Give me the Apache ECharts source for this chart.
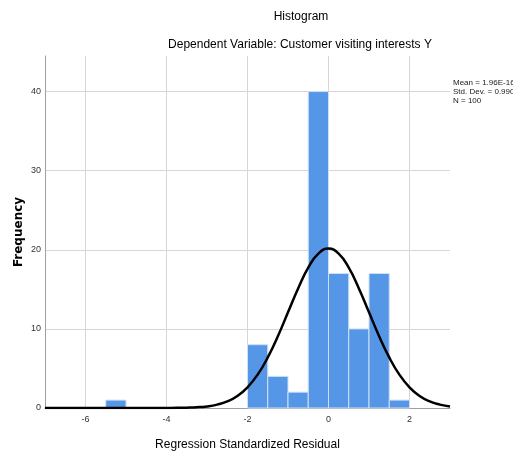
<!DOCTYPE html>
<html>
<head>
<meta charset="utf-8">
<script src="https://cdn.jsdelivr.net/npm/echarts@6/dist/echarts.min.js"></script>
<style>
html,body{margin:0;padding:0;background:#fff;}
#hist{width:513px;height:454px;}
</style>
</head>
<body>
<div id="hist"></div>
<script>
// histogram bins (residual ranges) and counts
var binStart = [-5.5, -2.0, -1.5, -1.0, -0.5, 0.0, 0.5, 1.0, 1.5]
var binEnd   = [-5.0, -1.5, -1.0, -0.5, 0.0, 0.5, 1.0, 1.5, 2.0]
var counts   = [1, 8, 4, 2, 40, 17, 10, 17, 1]

// normal curve
var curveX = [-7, -6, -5, -4.5, -4, -3.75, -3.5, -3.25, -3, -2.75, -2.5, -2.25, -2, -1.75, -1.5, -1.25, -1, -0.75, -0.5, -0.25,
              0, 0.25, 0.5, 0.75, 1, 1.25, 1.5, 1.75, 2, 2.25, 2.5, 2.75, 3]
var curveY = [0, 0, 0, 0, 0.01, 0.02, 0.04, 0.09, 0.2, 0.43, 0.83, 1.52, 2.62, 4.22, 6.39, 9.08, 12.1, 15.12, 17.74, 19.52,
              20.15, 19.52, 17.74, 15.12, 12.1, 9.08, 6.39, 4.22, 2.62, 1.52, 0.83, 0.43, 0.2]

var xTicks = [-6, -4, -2, 0, 2]
var yTicks = [10, 20, 30, 40]
var statLines = ['Mean = 1.96E-16', 'Std. Dev. = 0.990', 'N = 100']

var font = 'Liberation Sans, Arial, sans-serif'

var barData = binStart.map(function (s, i) { return [s, binEnd[i], counts[i]] })
var curveData = curveX.map(function (x, i) { return [x, curveY[i]] })
var gridLines = xTicks.map(function (v) { return {xAxis: v} })
    .concat(yTicks.map(function (v) { return {yAxis: v} }))

var chart = echarts.init(document.getElementById('hist'))
var option = {
    animation: false,
    grid: {left: 45, right: 63, top: 56, bottom: 46, outerBoundsMode: 'none', containLabel: false},
    xAxis: {
        type: 'value',
        min: -7,
        max: 3,
        interval: 1,
        name: 'Regression Standardized Residual',
        nameLocation: 'middle',
        nameGap: 31,
        nameTextStyle: {fontFamily: font, fontSize: 12, color: '#000'},
        axisLine: {onZero: false, lineStyle: {color: '#a0a0a0', width: 1}},
        axisTick: {show: false},
        splitLine: {show: false},
        axisLabel: {
            fontFamily: font, fontSize: 9, color: '#333', margin: 7,
            formatter: function (v) { return (v % 2 === 0) ? String(v) : '' }
        }
    },
    yAxis: {
        type: 'value',
        min: 0,
        max: 44.5,
        interval: 10,
        name: 'Frequency',
        nameLocation: 'middle',
        nameGap: 20,
        nameMoveOverlap: false,
        nameTextStyle: {fontFamily: 'DejaVu Sans, sans-serif', fontSize: 12, fontWeight: 'bold', color: '#000'},
        axisLine: {show: true, onZero: false, lineStyle: {color: '#a0a0a0', width: 1}},
        axisTick: {show: false},
        splitLine: {show: false},
        axisLabel: {
            fontFamily: font, fontSize: 9, color: '#333', margin: 4,
            formatter: function (v) { return (v % 10 === 0) ? String(v) : '' }
        }
    },
    graphic: [
        {type: 'text', x: 301, y: 17, style: {text: 'Histogram', font: '12px ' + font, fill: '#000', textAlign: 'center', textVerticalAlign: 'middle'}},
        {type: 'text', x: 300, y: 45, style: {text: 'Dependent Variable: Customer visiting interests Y', font: '12px ' + font, fill: '#000', textAlign: 'center', textVerticalAlign: 'middle'}},
        {type: 'text', x: 453, y: 78, style: {text: statLines.join('\n'), font: '8px ' + font, lineHeight: 9, fill: '#222', textVerticalAlign: 'top'}}
    ],
    series: [
        {
            type: 'scatter',
            data: [],
            z: 0,
            silent: true,
            markLine: {
                silent: true,
                z: 0,
                symbol: 'none',
                label: {show: false},
                lineStyle: {color: '#d6d6d6', width: 1, type: 'solid'},
                data: gridLines
            }
        },
        {
            type: 'custom',
            z: 2,
            data: barData,
            encode: {x: [0, 1], y: 2},
            renderItem: function (params, api) {
                var p0 = api.coord([api.value(0), 0])
                var p1 = api.coord([api.value(1), api.value(2)])
                return {
                    type: 'rect',
                    shape: {x: p0[0], y: p1[1], width: p1[0] - p0[0], height: p0[1] - p1[1]},
                    style: {fill: '#5596e6', stroke: '#cfe0f6', lineWidth: 1}
                }
            }
        },
        {
            type: 'line',
            z: 3,
            data: curveData,
            smooth: true,
            showSymbol: false,
            lineStyle: {color: '#000', width: 2.5}
        }
    ]
}
chart.setOption(option)
</script>
</body>
</html>
